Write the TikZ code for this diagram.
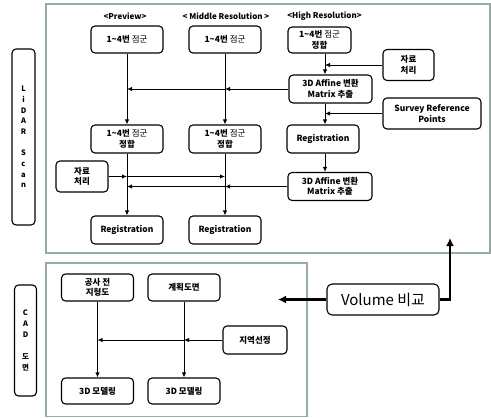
\documentclass[tikz,border=0pt]{standalone}
\usepackage{fontspec}
\setmainfont{Noto Sans CJK KR}
\usetikzlibrary{arrows.meta}
\definecolor{framecol}{RGB}{152,170,164}
\begin{document}
\begin{tikzpicture}[x=1pt,y=-1pt,
  box/.style={draw, line width=1.1pt, rounded corners=4pt, inner sep=0pt, align=center,
    font=\fontsize{8.5}{10.5}\selectfont\bfseries},
  hdr/.style={inner sep=0pt, font=\fontsize{8}{9}\selectfont\bfseries},
  arr/.style={line width=0.9pt, -{Latex[length=5pt,width=4.5pt]}},
  bigarr/.style={line width=2.6pt, -{Latex[length=8pt,width=8pt]}},
  frame/.style={draw=framecol, line width=1.5pt},
  side/.style={draw, line width=1.1pt, rounded corners=4pt, inner sep=0pt, align=center}
]
\useasboundingbox (0,0) rectangle (491,418);

% frames
\draw[frame] (46,4) rectangle (490,253);
\draw[frame] (46,263) rectangle (307,416.5);

% side labels
\node[side, minimum width=23pt, minimum height=176pt,
  font=\fontsize{7.5}{10.7}\selectfont\bfseries] (lidar) at (23.5,137)
  {L\\i\\D\\A\\R\\[10.7pt]S\\c\\a\\n};
\node[side, minimum width=22pt, minimum height=111pt,
  font=\fontsize{7.5}{11}\selectfont\bfseries] (cad) at (25.5,340.5)
  {C\\A\\D\\[11pt]도\\면};

% column coordinates
\coordinate (pc) at (127,0);
\coordinate (mc) at (225,0);
\coordinate (hc) at (325,0);

% headers
\node[hdr] (hp) at (125,16) {<Preview>};
\node[hdr] (hm) at (226,16) {< Middle Resolution >};
\node[hdr] (hh) at (324.5,16) {<High Resolution>};

% top panel boxes
\node[box, minimum width=72pt, minimum height=27pt] (p1) at (127,39.5) {1\textasciitilde4번 {\mdseries 점군}};
\node[box, minimum width=72pt, minimum height=27pt] (m1) at (225,39.5) {1\textasciitilde4번 {\mdseries 점군}};
\node[box, minimum width=63pt, minimum height=26pt] (h1) at (319.5,40) {1\textasciitilde4번 {\mdseries 점군}\\정합};
\node[box, minimum width=51pt, minimum height=31pt] (d2) at (408.5,65) {자료\\처리};
\node[box, minimum width=83pt, minimum height=28pt] (ha1) at (330.5,89) {3D Affine 변환\\Matrix 추출};
\node[box, minimum width=98pt, minimum height=31pt] (srp) at (432,113.5) {Survey Reference\\Points};
\node[box, minimum width=72pt, minimum height=28pt] (hr) at (323,139) {Registration};
\node[box, minimum width=84pt, minimum height=28pt] (ha2) at (330,186.5) {3D Affine 변환\\Matrix 추출};
\node[box, minimum width=72pt, minimum height=28pt] (p2) at (127,139) {1\textasciitilde4번 {\mdseries 점군}\\정합};
\node[box, minimum width=72pt, minimum height=28pt] (m2) at (225,139) {1\textasciitilde4번 {\mdseries 점군}\\정합};
\node[box, minimum width=52pt, minimum height=31pt] (d1) at (82,176.5) {자료\\처리};
\node[box, minimum width=72pt, minimum height=28pt] (p3) at (127,230) {Registration};
\node[box, minimum width=72pt, minimum height=28pt] (m3) at (225,230) {Registration};

% vertical arrows
\draw[arr] (p1.south) -- (p2.north);
\draw[arr] (m1.south) -- (m2.north);
\draw[arr] (p2.south) -- (p3.north);
\draw[arr] (m2.south) -- (m3.north);
\draw[arr] (h1.south -| hc) -- (ha1.north -| hc);
\draw[arr] (ha1.south -| hc) -- (hr.north -| hc);
\draw[arr] (hr.south -| hc) -- (ha2.north -| hc);

% horizontal arrows
\draw[arr] (d2.west) -- (d2.west -| hc);
\draw[arr] (srp.west) -- (srp.west -| hc);
\draw[arr] (ha1.west) -- (ha1.west -| mc);
\draw[arr] (ha1.west -| mc) -- (ha1.west -| pc);
\draw[arr] (d1.east) -- (d1.east -| pc);
\draw[arr] (d1.east -| pc) -- (d1.east -| mc);
\draw[arr] (ha2.west) -- (ha2.west -| mc);
\draw[arr] (ha2.west -| mc) -- (ha2.west -| pc);

% bottom panel boxes
\node[box, minimum width=72pt, minimum height=27pt] (b1) at (97.5,287.5) {공사 전\\지형도};
\node[box, minimum width=72pt, minimum height=27pt] (b2) at (184,287.5) {계획도면};
\node[box, minimum width=72pt, minimum height=26pt] (b3) at (97.5,391) {3D 모델링};
\node[box, minimum width=72pt, minimum height=26pt] (b4) at (184,391) {3D 모델링};
\node[box, minimum width=64pt, minimum height=28pt] (area) at (255,340) {지역선정};

\draw[arr] (b1.south) -- (b3.north);
\draw[arr] (b2.south) -- (b4.north);
\draw[arr] (area.west) -- (area.west -| b2.south);
\draw[arr] (area.west -| b2.south) -- (area.west -| b1.south);

% volume comparison
\node[draw, line width=1.1pt, rounded corners=5pt, inner sep=0pt,
  minimum width=112pt, minimum height=31pt,
  font=\fontsize{15}{17}\selectfont] (vol) at (383,299.5) {Volume 비교};
\coordinate (vl) at (278,299.5);
\coordinate (vt) at (450,238);
\draw[bigarr] (vol.west) -- (vl);
\draw[bigarr] (vol.east) -| (vt);
\end{tikzpicture}
\end{document}
